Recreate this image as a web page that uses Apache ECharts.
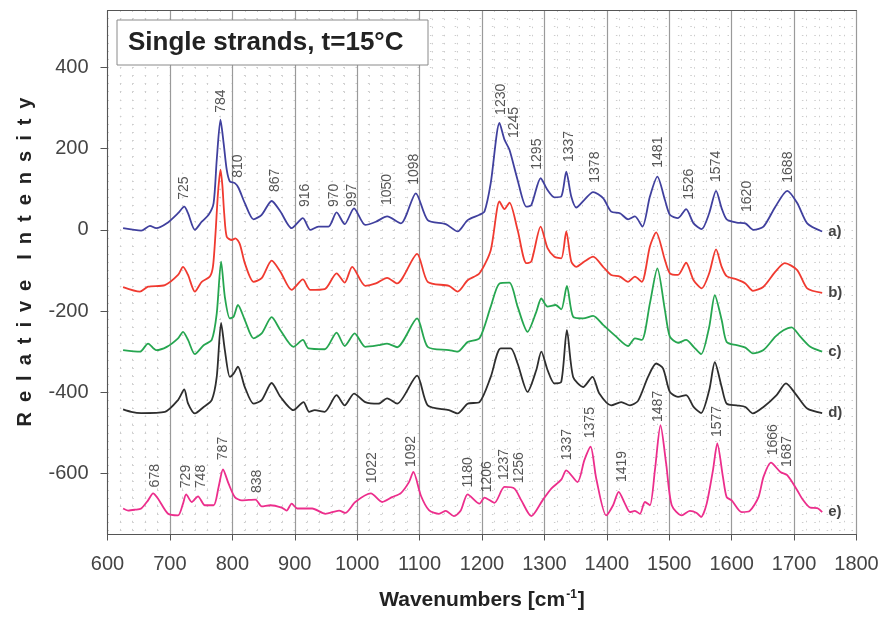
<!DOCTYPE html>
<html><head><meta charset="utf-8">
<script src="https://cdn.jsdelivr.net/npm/echarts@6/dist/echarts.min.js"></script>
<style>html,body{margin:0;padding:0;background:#fff}#c{width:882px;height:617px}</style>
</head><body><div id="c"></div>
<script>
// ---- data ----
const yTickValues = [-600, -400, -200, 0, 200, 400];

const wnA = [625,654,668,678,695,713,723,729,740,751,762,770,775,781,786,791,796,804,810,820,834,847,863,877,895,913,925,938,954,967,980,995,1013,1030,1048,1070,1094,1113,1142,1161,1177,1196,1204,1214,1228,1236,1244,1257,1271,1279,1294,1305,1316,1327,1335,1343,1351,1364,1378,1394,1407,1421,1434,1445,1457,1469,1481,1493,1501,1514,1527,1539,1552,1564,1575,1584,1592,1608,1622,1635,1651,1670,1689,1705,1721,1745];
const intA = [4,-2,10,4,16,41,57,41,0,20,37,66,172,271,214,148,119,115,103,66,26,37,71,45,4,29,0,8,8,43,14,53,12,20,33,16,90,24,14,-4,24,37,45,115,263,222,197,123,57,61,127,98,80,82,143,82,55,74,93,78,45,41,26,33,8,82,131,74,37,29,51,16,2,41,96,53,26,18,16,0,8,57,96,66,16,-4];

const wnB = [625,652,665,692,713,721,729,740,751,764,769,773,777,781,784,787,791,799,805,812,820,834,847,863,877,895,913,925,948,967,980,992,1013,1030,1048,1064,1096,1113,1147,1161,1177,1196,1214,1228,1236,1244,1257,1271,1279,1294,1305,1316,1327,1335,1343,1351,1364,1378,1394,1407,1421,1434,1445,1456,1469,1479,1493,1501,1514,1527,1539,1552,1564,1575,1584,1592,1608,1622,1634,1651,1670,1685,1705,1721,1745];
const intB = [-141,-152,-140,-136,-111,-91,-111,-152,-128,-115,-90,-10,90,148,110,40,-17,-25,-21,-35,-82,-128,-119,-76,-103,-148,-122,-148,-146,-107,-130,-91,-138,-132,-118,-132,-59,-128,-138,-152,-124,-107,-50,70,51,67,0,-82,-78,8,-45,-66,-70,-4,-78,-91,-78,-66,-91,-111,-115,-128,-115,-128,-41,-6,-74,-107,-111,-81,-124,-144,-107,-48,-91,-114,-122,-132,-150,-140,-103,-82,-99,-144,-155];

const wnC = [625,652,665,678,695,713,721,729,740,754,767,775,782,788,796,802,809,820,834,847,863,877,898,913,922,948,967,980,996,1013,1034,1048,1064,1096,1113,1147,1161,1177,1196,1214,1228,1244,1257,1273,1287,1295,1305,1318,1327,1336,1346,1362,1378,1394,1415,1434,1445,1456,1469,1481,1493,1501,1514,1527,1539,1551,1564,1573,1584,1592,1608,1622,1634,1651,1670,1683,1696,1710,1726,1745];
const intC = [-296,-300,-280,-296,-288,-267,-251,-271,-306,-284,-271,-206,-78,-165,-218,-214,-185,-222,-267,-255,-215,-247,-288,-271,-292,-294,-253,-286,-255,-288,-284,-280,-289,-218,-288,-296,-300,-276,-267,-189,-132,-130,-189,-251,-202,-169,-189,-185,-196,-138,-214,-218,-212,-234,-263,-286,-267,-271,-181,-95,-197,-263,-278,-271,-288,-306,-239,-161,-222,-276,-284,-290,-304,-296,-263,-247,-240,-263,-288,-300];

const wnD = [625,638,654,692,713,723,729,740,754,767,775,782,788,796,802,809,820,834,847,863,877,898,914,923,932,948,967,980,995,1013,1034,1048,1064,1096,1113,1147,1161,1177,1196,1214,1230,1246,1257,1273,1287,1295,1305,1316,1327,1336,1346,1362,1377,1388,1407,1423,1437,1450,1466,1479,1490,1501,1514,1527,1539,1551,1564,1573,1584,1592,1608,1622,1634,1651,1672,1687,1702,1721,1745];
const intD = [-442,-448,-451,-448,-419,-393,-427,-452,-436,-419,-362,-229,-296,-362,-354,-337,-387,-428,-419,-377,-411,-444,-424,-448,-444,-448,-407,-432,-403,-424,-428,-415,-428,-359,-432,-444,-452,-428,-424,-362,-292,-292,-329,-399,-345,-300,-345,-378,-374,-247,-362,-387,-362,-403,-432,-424,-432,-421,-362,-329,-341,-399,-411,-407,-436,-451,-395,-326,-387,-428,-432,-436,-452,-436,-407,-378,-403,-440,-451];

const wnE = [625,633,644,654,665,673,681,697,713,721,726,735,745,756,770,778,785,794,804,815,837,847,861,879,887,895,904,928,949,971,981,997,1022,1040,1056,1070,1083,1090,1102,1115,1131,1142,1155,1166,1177,1196,1204,1220,1236,1252,1263,1279,1297,1311,1327,1335,1353,1364,1374,1383,1399,1410,1419,1429,1437,1445,1453,1461,1469,1477,1486,1495,1504,1520,1533,1544,1551,1560,1570,1577,1586,1592,1600,1616,1629,1643,1651,1663,1678,1689,1705,1713,1726,1737,1745];
const intE = [-686,-691,-689,-686,-666,-649,-662,-699,-703,-674,-651,-670,-656,-678,-678,-633,-590,-625,-658,-666,-664,-681,-678,-684,-691,-674,-686,-686,-699,-691,-697,-670,-649,-670,-658,-648,-621,-596,-654,-690,-699,-692,-705,-691,-651,-674,-659,-672,-633,-637,-666,-705,-666,-637,-615,-592,-621,-567,-534,-612,-703,-678,-645,-674,-695,-692,-699,-670,-678,-592,-481,-575,-678,-703,-692,-697,-707,-674,-592,-526,-608,-658,-666,-695,-692,-658,-608,-573,-596,-604,-641,-662,-684,-685,-695];

// peak annotations: text, x position (cm-1), label base (intensity units)
const peakTextA = ['725','784','810','867','916','970','997','1050','1098','1230','1245','1295','1337','1378','1481','1526','1574','1620','1688'];
const peakXA    = [723,782,810,869,917,963,992,1048,1091,1230,1252,1289,1339,1381,1482,1532,1575,1625,1691];
const peakYA    = [74,288,128,93,56,56,56,61,111,283,226,148,167,116,153,74,118,44,116];
const peakTextE = ['678','729','748','787','838','1022','1092','1180','1206','1237','1256','1337','1375','1419','1487','1577','1666','1687'];
const peakXE    = [676,726,750,786,839,1024,1086,1177,1209,1236,1260,1337,1374,1425,1483,1576,1667,1689];
const peakYE    = [-634,-636,-636,-567,-648,-624,-584,-634,-646,-616,-624,-567,-513,-621,-473,-510,-555,-584];

const seriesNames = ['a)','b)','c)','d)','e)'];
const seriesColors = ['#40409e','#f03a30','#26a650','#2e2e2e','#ec2e8c'];

// ---- chart ----
const FONT = '"Liberation Sans", Arial, sans-serif';
const minorY = [];
for (let v = -740; v <= 540; v += 20) minorY.push(v);

const xs = [wnA, wnB, wnC, wnD, wnE];
const ys = [intA, intB, intC, intD, intE];
const lineSeries = xs.map((wn, k) => ({
  type: 'line',
  name: seriesNames[k],
  data: wn.map((w, i) => [w, ys[k][i]]),
  showSymbol: false,
  smooth: 0.25,
  z: 3,
  lineStyle: { color: seriesColors[k], width: 1.8 },
  itemStyle: { color: seriesColors[k] },
  endLabel: { show: true, formatter: seriesNames[k], color: '#444', fontSize: 15, fontWeight: 'bold', fontFamily: FONT, distance: 6 },
  silent: true
}));

function annot(texts, px, py) {
  return {
    type: 'scatter',
    symbolSize: 0,
    silent: true,
    z: 4,
    data: texts.map((t, i) => [px[i], py[i], t]),
    label: {
      show: true,
      formatter: p => p.data[2],
      position: [0, 0],
      rotate: 90,
      align: 'left',
      verticalAlign: 'middle',
      fontSize: 14,
      color: '#2a2a2a',
      fontFamily: FONT
    }
  };
}

const chart = echarts.init(document.getElementById('c'), null, { renderer: 'canvas' });
chart.setOption({
  animation: false,
  backgroundColor: '#fff',
  grid: { left: 107.5, right: 25.5, top: 10.5, bottom: 82.5, containLabel: false },
  xAxis: [{
    type: 'value', min: 600, max: 1800, interval: 100,
    axisLine: { show: true, onZero: false, lineStyle: { color: '#555', width: 1 } },
    axisTick: { show: true, length: 6, lineStyle: { color: '#555' } },
    axisLabel: { fontSize: 20, color: '#444', margin: 20, fontFamily: FONT, formatter: v => String(v) },
    splitLine: { show: true, lineStyle: { color: '#9a9a9a', width: 1.2 } },
    minorTick: { show: false, splitNumber: 5 },
    minorSplitLine: { show: true, lineStyle: { color: '#cccccc', width: 1, type: [1.5, 6.6] } },
    name: '{b|Wavenumbers [cm}{s|-1}{b|]}',
    nameLocation: 'middle', nameGap: 54,
    nameTextStyle: { rich: {
      b: { fontSize: 21, fontWeight: 'bold', color: '#222', fontFamily: FONT },
      s: { fontSize: 12, fontWeight: 'bold', color: '#222', fontFamily: FONT, padding: [0, 1, 12, 1] }
    } }
  }, {
    type: 'value', min: 600, max: 1800, position: 'top',
    axisLine: { show: true, onZero: false, lineStyle: { color: '#555', width: 1 } },
    axisTick: { show: false }, axisLabel: { show: false }, splitLine: { show: false }
  }],
  yAxis: [{
    type: 'value', min: -750, max: 540,
    axisLine: { show: true, onZero: false, lineStyle: { color: '#555', width: 1 } },
    axisTick: { show: true, length: 7, customValues: yTickValues, lineStyle: { color: '#555' } },
    axisLabel: { customValues: yTickValues, fontSize: 20, color: '#444', margin: 19, fontFamily: FONT },
    splitLine: { show: false }
  }, {
    type: 'value', min: -750, max: 540, position: 'left',
    axisLine: { show: false, onZero: false },
    axisTick: { show: false, customValues: minorY },
    axisLabel: { show: false },
    splitLine: { show: true, lineStyle: { color: '#cccccc', width: 1, type: [1.5, 10.9] } }
  }],
  series: lineSeries.concat([annot(peakTextA, peakXA, peakYA), annot(peakTextE, peakXE, peakYE)]),
  graphic: [
    { type: 'rect', z: 100, shape: { x: 117, y: 20, width: 311, height: 45 },
      style: { fill: '#fff', stroke: '#8a8a8a', lineWidth: 1 } },
    { type: 'text', z: 101, x: 128, y: 43,
      style: { text: 'Single strands, t=15°C', font: 'bold 26px "Liberation Sans", Arial, sans-serif', fill: '#222', textVerticalAlign: 'middle' } },
    { type: 'text', z: 101, x: 25, y: 262, rotation: Math.PI / 2,
      style: { text: 'R\u2002e\u2002l\u2002a\u2002t\u2002i\u2002v\u2002e\u2002\u2002I\u2002n\u2002t\u2002e\u2002n\u2002s\u2002i\u2002t\u2002y',
        font: 'bold 20px "Liberation Sans", Arial, sans-serif', fill: '#222', textAlign: 'center', textVerticalAlign: 'middle' } }
  ]
});
</script>
</body></html>
